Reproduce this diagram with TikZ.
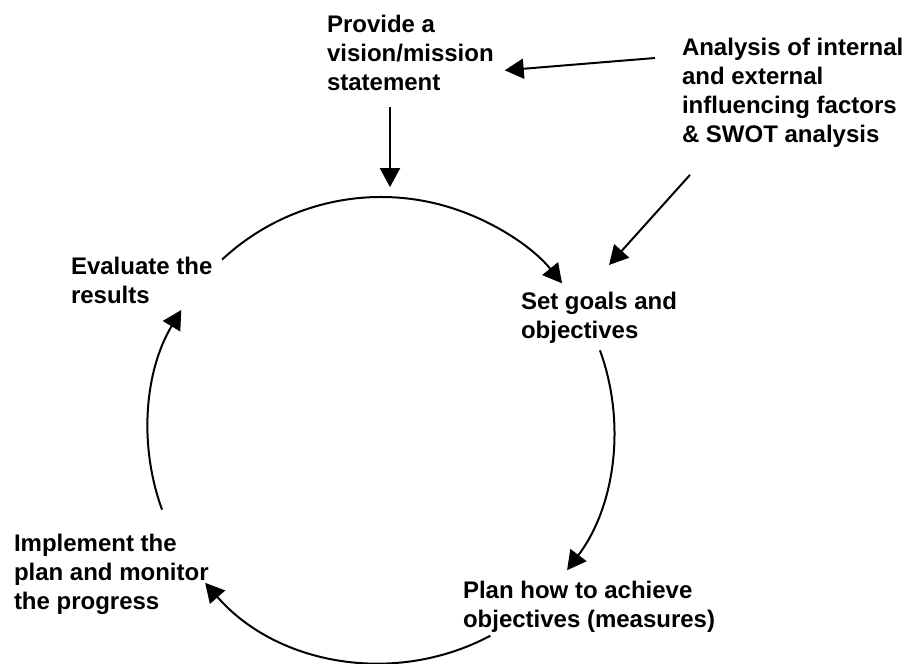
\documentclass[tikz,border=0pt]{standalone}
\usepackage{fontspec}
\setmainfont{Liberation Sans}
\usetikzlibrary{arrows.meta,calc}

\begin{document}
\begin{tikzpicture}[x=.5pt, y=.5pt, line width=1pt,
  lbl/.style={anchor=north west, inner sep=0pt, align=left, font=\fontsize{12}{14.5}\selectfont\bfseries},
  arr/.style={-{Triangle[length=9.5pt, width=10pt]}}]
  \useasboundingbox (0,0) rectangle (907,664);
  % the steps, placed by their top left corners
  \node[lbl] (vision) at (326,649.5) {Provide a\\vision/mission\\statement};
  \node[lbl] (analysis) at (681,627) {Analysis of internal\\and external\\influencing factors\\\& SWOT analysis};
  \node[lbl] (evaluate) at (70,407.5) {Evaluate the\\results};
  \node[lbl] (goals) at (520,372.5) {Set goals and\\objectives};
  \node[lbl] (implement) at (13,130.5) {Implement the\\plan and monitor\\the progress};
  \node[lbl] (plan) at (462,84) {Plan how to achieve\\objectives (measures)};
  % inputs into the cycle
  \draw[arr] ($(analysis.north west)+(-26,-21)$) -- ($(vision.east)+(10,-17)$);
  \draw[arr] ($(vision.south west)+(64,-15)$) -- ($(vision.south west)+(64,-95)$);
  \draw[arr] ($(analysis.south west)+(9,-26.5)$) -- ($(goals.north)+(10,26.5)$);
  % the cycle itself, four arcs of one circle
  \coordinate (hub) at (381,234);
  \draw[arr] ([shift={(133:233)}]hub) arc[start angle=133, end angle=39, radius=233];
  \draw[arr] ([shift={(20:233)}]hub) arc[start angle=20, end angle=-37, radius=233];
  \draw[arr] ([shift={(-62:233)}]hub) arc[start angle=-62, end angle=-139, radius=233];
  \draw[arr] ([shift={(200:233)}]hub) arc[start angle=200, end angle=149, radius=233];
\end{tikzpicture}
\end{document}
